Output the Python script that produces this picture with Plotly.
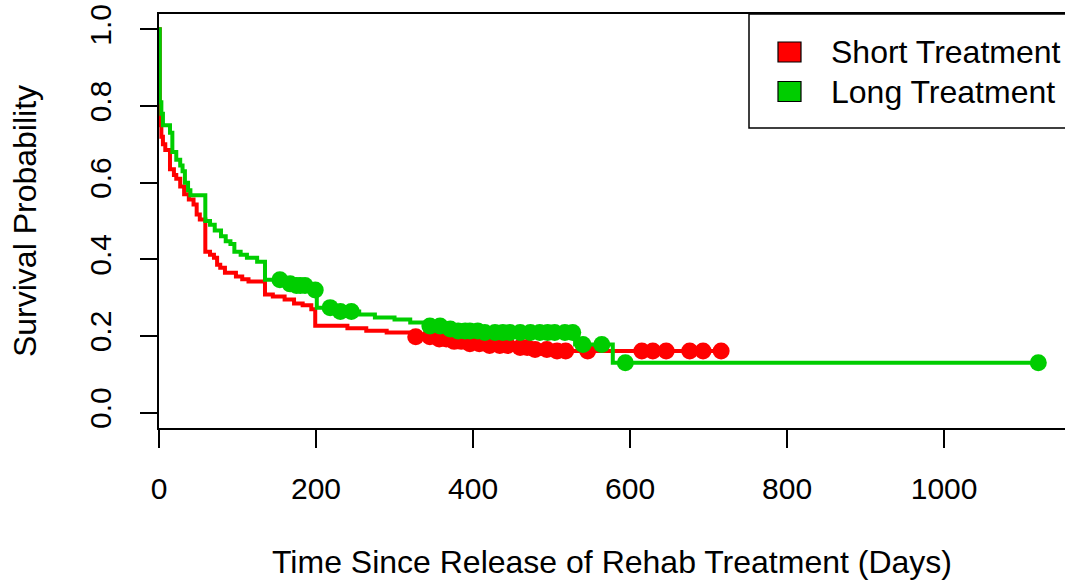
import numpy as np
import plotly.graph_objects as go

# ---- data ----
short_time = [0, 1, 2, 3, 5, 8, 14, 19, 22, 27, 32, 38, 44, 48, 52, 59, 65, 70, 74, 78, 84, 98, 106, 114,
              135, 145, 160, 172, 183, 194, 199, 240, 264, 290, 320, 350, 375, 395, 420, 445, 470, 500]
short_surv = [1.0, 0.78, 0.75, 0.72, 0.70, 0.685, 0.635, 0.62, 0.61, 0.59, 0.57, 0.556, 0.543, 0.517, 0.504,
              0.42, 0.412, 0.404, 0.386, 0.378, 0.365, 0.355, 0.348, 0.342,
              0.308, 0.303, 0.295, 0.285, 0.28, 0.27, 0.227, 0.22, 0.214, 0.209, 0.198, 0.192,
              0.186, 0.18, 0.175, 0.17, 0.165, 0.161]
short_cens = [327, 345, 357, 366, 376, 385, 396, 408, 421, 434, 444, 460, 469, 479, 494, 507, 518, 546,
              615, 629, 646, 676, 693, 716]

long_time = [0, 1, 3, 5, 14, 17, 22, 27, 30, 33, 37, 40, 59, 65, 71, 79, 85, 91, 96, 104, 112, 125, 135,
             160, 175, 190, 197, 201, 225, 255, 275, 300, 320, 340, 360, 380, 410, 530, 578]
long_surv = [1.0, 0.81, 0.78, 0.75, 0.73, 0.68, 0.66, 0.645, 0.63, 0.60, 0.58, 0.567, 0.50, 0.49, 0.475,
             0.46, 0.447, 0.44, 0.42, 0.412, 0.404, 0.394, 0.347,
             0.336, 0.332, 0.327, 0.32, 0.274, 0.264, 0.256, 0.248, 0.243, 0.235, 0.226, 0.218, 0.213,
             0.209, 0.178, 0.13]
long_cens = [154, 167, 175, 180, 186, 199, 218, 231, 245, 345, 358, 371, 381, 390, 396, 406, 415, 428,
             438, 447, 460, 473, 485, 495, 504, 517, 527, 540, 564, 594, 1120]

x_ticks = [0, 200, 400, 600, 800, 1000]
y_ticks = [0.0, 0.2, 0.4, 0.6, 0.8, 1.0]
y_tick_text = ["0.0", "0.2", "0.4", "0.6", "0.8", "1.0"]

series_names = ["Short Treatment", "Long Treatment"]
RED = "#FF0000"
GREEN = "#00CD00"
FONT = "Liberation Sans, Arial, Helvetica, sans-serif"

W, H = 1065, 582
ML, MR, MT, MB = 159, 0, 14, 154
PW = W - ML - MR
PH = H - MT - MB


def surv_at(times, survs, ts):
    times = np.asarray(times)
    survs = np.asarray(survs)
    idx = np.searchsorted(times, np.asarray(ts), side="right") - 1
    return survs[idx]


def px_x(px):
    return (px - ML) / PW


def px_y(py):
    return (H - MB - py) / PH


fig = go.Figure()

for times, survs, cens, col, name in [(short_time, short_surv, short_cens, RED, series_names[0]),
                                      (long_time, long_surv, long_cens, GREEN, series_names[1])]:
    end = max(cens)
    xs = list(times) + [end]
    ys = list(survs) + [survs[-1]]
    fig.add_trace(go.Scatter(x=xs, y=ys, mode="lines", name=name,
                             line=dict(color=col, width=4, shape="hv"),
                             showlegend=False, hoverinfo="skip"))
    fig.add_trace(go.Scatter(x=cens, y=surv_at(times, survs, cens), mode="markers", name=name,
                             marker=dict(color=col, size=17, line=dict(width=0)),
                             showlegend=False, hoverinfo="skip"))

# ---- legend drawn like R's legend(): box, filled squares, labels ----
shapes = [dict(type="rect", xref="paper", yref="paper",
               x0=px_x(749), x1=px_x(1080), y0=px_y(128), y1=px_y(14),
               line=dict(color="black", width=1.5), fillcolor="white", layer="above")]
annotations = []
for i, (name, col) in enumerate(zip(series_names, [RED, GREEN])):
    cy = 52 + i * 39.5
    shapes.append(dict(type="rect", xref="paper", yref="paper",
                       x0=px_x(778), x1=px_x(801), y0=px_y(cy + 10), y1=px_y(cy - 10),
                       line=dict(color="black", width=1.2), fillcolor=col, layer="above"))
    annotations.append(dict(text=name, xref="paper", yref="paper", x=px_x(829), y=px_y(cy),
                            xanchor="left", yanchor="middle", showarrow=False,
                            font=dict(size=32, family=FONT, color="black")))

fig.update_layout(
    width=W, height=H,
    margin=dict(l=ML, r=MR, t=MT, b=MB),
    plot_bgcolor="white", paper_bgcolor="white",
    font=dict(family=FONT, size=30, color="black"),
    showlegend=False,
    shapes=shapes,
    annotations=annotations,
    xaxis=dict(range=[0, 1154], tickvals=x_ticks, ticktext=[str(v) for v in x_ticks],
               ticks="outside", ticklen=18, tickwidth=1.5, tickcolor="black",
               ticklabelstandoff=15, tickfont=dict(size=30),
               showline=True, linecolor="black", linewidth=1.5, mirror=True,
               showgrid=False, zeroline=False,
               title=dict(text="Time Since Release of Rehab Treatment (Days)", standoff=47,
                          font=dict(size=32))),
    yaxis=dict(range=[-0.04, 1.04], tickvals=y_ticks, ticktext=y_tick_text, tickangle=-90,
               ticks="outside", ticklen=17, tickwidth=1.5, tickcolor="black",
               ticklabelstandoff=17, tickfont=dict(size=30),
               showline=True, linecolor="black", linewidth=1.5, mirror=False,
               showgrid=False, zeroline=False,
               title=dict(text="Survival Probability", standoff=38, font=dict(size=32))),
)

fig.write_html("out.html", config={"displayModeBar": False},
               post_script="document.body.style.margin='0';")
